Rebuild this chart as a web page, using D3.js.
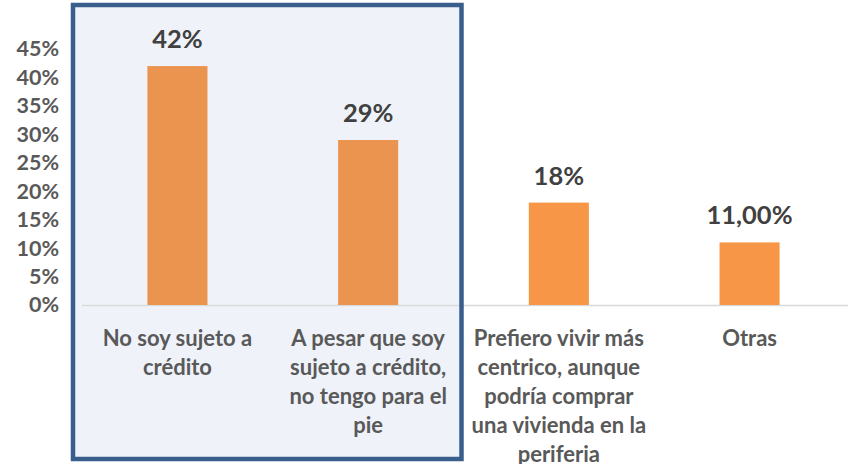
<!DOCTYPE html>
<html>
<head>
<meta charset="utf-8">
<script src="https://cdn.jsdelivr.net/npm/d3@7"></script>
<style>
  html, body { margin: 0; padding: 0; background: #ffffff; }
  svg { display: block; }
  text { font-family: Lato, "Open Sans", sans-serif; font-weight: 700; }
</style>
</head>
<body>
<svg id="chart" width="848" height="464"></svg>
<script>
// Reasons for not buying a home (share of responses)
const categories = [
  "No soy sujeto a crédito",
  "A pesar que soy sujeto a crédito, no tengo para el pie",
  "Prefiero vivir más centrico, aunque podría comprar una vivienda en la periferia",
  "Otras"
];
const categoryLines = [
  ["No soy sujeto a", "crédito"],
  ["A pesar que soy", "sujeto a crédito,", "no tengo para el", "pie"],
  ["Prefiero vivir más", "centrico, aunque", "podría comprar", "una vivienda en la", "periferia"],
  ["Otras"]
];
const values = [0.42, 0.29, 0.18, 0.11];
const valueLabels = ["42%", "29%", "18%", "11,00%"];
const yTicks = [0, 0.05, 0.10, 0.15, 0.20, 0.25, 0.30, 0.35, 0.40, 0.45];
const highlighted = [categories[0], categories[1]];

const svg = d3.select("#chart");

const x = d3.scaleBand()
  .domain(categories)
  .range([82, 845])
  .paddingInner(0.685)
  .paddingOuter(0.343);

const y = d3.scaleLinear()
  .domain([0, 0.45])
  .range([305, 49]);

// Highlight panel behind the first two categories
const boxLeft = x.range()[0] - 9;
const boxRight = x(categories[1]) + x.bandwidth() + x.step() * x.paddingInner() / 2 - 2;
svg.append("rect")
  .attr("x", boxLeft)
  .attr("y", 5)
  .attr("width", boxRight - boxLeft)
  .attr("height", 454)
  .attr("fill", "#EFF3F9");

// Category axis line
svg.append("line")
  .attr("x1", x.range()[0])
  .attr("x2", 848)
  .attr("y1", y(0) + 0.5)
  .attr("y2", y(0) + 0.5)
  .attr("stroke", "#D9D9D9")
  .attr("stroke-width", 1.5);

// Y axis labels (no axis line, no ticks)
const yAxis = d3.axisLeft(y)
  .tickValues(yTicks)
  .tickFormat(d3.format(".0%"))
  .tickSize(0)
  .tickPadding(0);
const yg = svg.append("g")
  .attr("transform", "translate(59,0)")
  .call(yAxis);
yg.select(".domain").remove();
yg.selectAll("text")
  .attr("fill", "#595959")
  .attr("font-size", 21.5)
  .attr("font-family", "Lato, sans-serif")
  .attr("font-weight", 700);

// Bars
svg.append("g")
  .selectAll("rect")
  .data(categories)
  .join("rect")
  .attr("x", d => x(d))
  .attr("width", x.bandwidth())
  .attr("y", (d, i) => y(values[i]))
  .attr("height", (d, i) => y(0) - y(values[i]))
  .attr("fill", d => highlighted.includes(d) ? "#EB9450" : "#F79646");

// Value labels
svg.append("g")
  .selectAll("text")
  .data(categories)
  .join("text")
  .attr("x", d => x(d) + x.bandwidth() / 2)
  .attr("y", (d, i) => y(values[i]) - 18)
  .attr("text-anchor", "middle")
  .attr("font-size", 25.5)
  .attr("fill", "#404040")
  .text((d, i) => valueLabels[i]);

// Category labels
const catG = svg.append("g")
  .selectAll("text")
  .data(categories)
  .join("text")
  .attr("text-anchor", "middle")
  .attr("font-size", 22)
  .attr("fill", "#595959");
catG.each(function(d, i) {
  const t = d3.select(this);
  categoryLines[i].forEach((line, k) => {
    t.append("tspan")
      .attr("x", x(d) + x.bandwidth() / 2)
      .attr("y", 346 + k * 29)
      .text(line);
  });
});

// Panel border
svg.append("rect")
  .attr("x", boxLeft)
  .attr("y", 5)
  .attr("width", boxRight - boxLeft)
  .attr("height", 454)
  .attr("fill", "none")
  .attr("stroke", "#3A5E8C")
  .attr("stroke-width", 4.5);
</script>
</body>
</html>
